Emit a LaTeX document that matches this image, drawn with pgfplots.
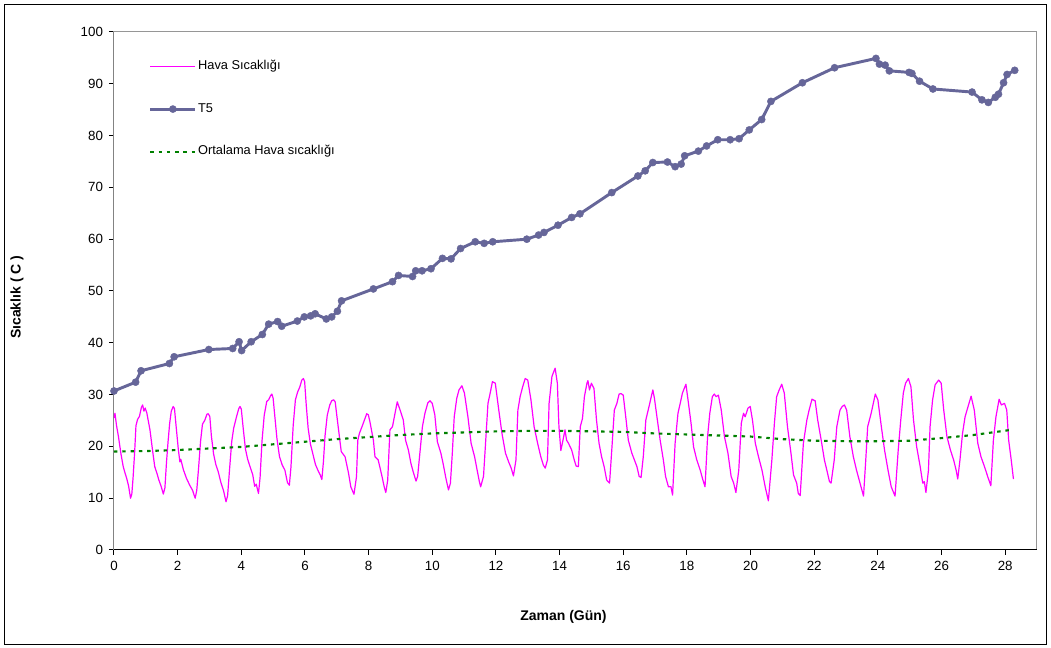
\documentclass[border=0pt]{standalone}
\usepackage{fontspec}
\setmainfont{Liberation Sans}
\usepackage{pgfplots}
\pgfplotsset{compat=1.18}
\definecolor{tfive}{HTML}{666699}
\definecolor{pinkc}{HTML}{FF00FF}
\definecolor{greenc}{HTML}{008000}
\definecolor{framegray}{HTML}{969696}

\pgfplotstableread{
x y
0.00 25.5
0.03 26.4
0.08 24.0
0.14 21.9
0.22 18.5
0.29 16.1
0.35 14.8
0.40 13.8
0.46 12.3
0.52 10.0
0.56 10.8
0.60 14.0
0.65 19.0
0.69 24.0
0.74 25.2
0.80 25.8
0.86 27.5
0.90 28.0
0.94 26.8
0.98 27.4
1.03 26.5
1.13 23.2
1.21 19.3
1.28 16.1
1.35 14.8
1.41 13.5
1.48 12.3
1.55 10.8
1.60 12.0
1.65 17.0
1.70 21.0
1.75 24.5
1.80 26.8
1.86 27.7
1.90 27.3
1.95 24.0
2.02 19.5
2.07 17.0
2.10 17.5
2.18 15.5
2.28 13.8
2.38 12.5
2.47 11.5
2.55 10.0
2.60 11.5
2.66 16.0
2.72 21.0
2.78 24.3
2.85 25.0
2.92 26.2
2.96 26.3
3.01 25.8
3.06 22.0
3.13 18.5
3.20 16.5
3.28 15.0
3.36 13.0
3.44 11.5
3.52 9.3
3.57 10.5
3.63 15.5
3.70 21.0
3.76 23.5
3.84 25.5
3.92 27.3
3.96 27.7
4.00 27.2
4.06 23.5
4.13 19.5
4.20 17.5
4.28 16.0
4.36 14.5
4.42 12.3
4.47 12.7
4.54 10.9
4.59 14.0
4.65 21.0
4.72 26.0
4.80 28.7
4.86 29.0
4.92 29.8
4.96 30.1
5.00 29.3
5.05 26.0
5.12 21.5
5.20 18.0
5.28 16.5
5.37 15.4
5.45 13.0
5.51 12.5
5.56 16.0
5.63 24.0
5.70 29.0
5.77 30.5
5.84 31.5
5.90 32.8
5.95 33.1
5.99 32.5
6.04 28.0
6.10 23.5
6.17 20.5
6.25 18.5
6.33 16.5
6.42 15.2
6.48 14.5
6.53 13.6
6.58 17.0
6.63 22.0
6.70 26.0
6.78 28.0
6.84 28.8
6.90 29.0
6.95 28.6
7.00 26.0
7.07 22.5
7.14 19.0
7.26 18.0
7.37 14.8
7.44 12.2
7.54 10.75
7.62 14.2
7.66 21.2
7.71 22.5
7.81 24.1
7.94 26.3
7.99 26.1
8.04 24.8
8.15 21.2
8.20 18.0
8.30 17.4
8.41 14.5
8.49 12.2
8.54 11.1
8.60 13.5
8.67 23.2
8.75 23.8
8.83 26.4
8.90 28.6
8.99 27.0
9.09 25.1
9.16 21.2
9.25 19.3
9.33 16.7
9.40 15.1
9.49 13.3
9.54 14.2
9.62 19.3
9.69 23.8
9.77 26.4
9.86 28.4
9.93 28.8
10.00 28.3
10.08 26.1
10.16 20.9
10.27 18.7
10.34 16.7
10.43 13.8
10.51 11.6
10.57 12.9
10.63 18.7
10.69 25.7
10.77 29.3
10.84 30.9
10.93 31.7
11.01 30.3
11.12 25.7
11.22 20.6
11.33 18.0
11.41 15.4
11.48 13.2
11.52 12.2
11.61 14.2
11.68 21.2
11.75 28.3
11.82 30.3
11.89 32.5
11.98 32.2
12.09 27.0
12.19 22.5
12.30 18.7
12.40 17.0
12.48 15.8
12.55 14.3
12.63 17.4
12.69 27.0
12.76 29.6
12.84 31.5
12.92 33.1
13.00 32.8
13.10 29.0
13.20 23.8
13.31 20.6
13.41 18.0
13.49 16.4
13.55 15.8
13.62 17.4
13.67 28.3
13.76 33.5
13.86 35.1
13.93 32.2
13.98 23.8
14.04 19.2
14.12 21.6
14.17 23.2
14.22 21.2
14.28 20.6
14.38 19.3
14.46 17.4
14.52 16.2
14.59 16.1
14.65 23.8
14.72 25.4
14.78 29.6
14.86 32.2
14.89 32.7
14.94 30.9
15.00 32.2
15.08 31.2
15.16 25.1
15.24 20.6
15.32 18.0
15.40 16.1
15.48 13.5
15.57 12.9
15.64 19.3
15.72 27.0
15.80 28.3
15.87 30.1
15.93 30.2
16.00 29.9
16.09 25.1
16.16 21.2
16.27 18.7
16.35 17.4
16.43 16.1
16.50 14.2
16.56 14.0
16.63 18.0
16.71 25.1
16.81 27.7
16.87 29.3
16.93 30.9
16.98 29.3
17.05 26.1
17.16 21.2
17.26 17.4
17.33 14.2
17.42 12.2
17.50 12.2
17.55 10.6
17.63 20.6
17.72 26.4
17.79 28.3
17.86 30.3
17.97 32.0
18.05 28.3
18.13 24.5
18.21 19.9
18.31 17.4
18.42 15.4
18.49 13.8
18.57 12.2
18.65 21.9
18.72 26.4
18.80 29.6
18.86 30.1
18.92 29.6
18.99 29.9
19.08 27.0
19.18 21.9
19.29 18.7
19.39 14.2
19.47 12.9
19.54 11.1
19.63 15.4
19.71 24.5
19.78 26.4
19.83 25.7
19.92 27.4
19.99 27.7
20.06 25.1
20.15 20.6
20.25 18.0
20.36 15.4
20.46 12.2
20.56 9.5
20.67 17.4
20.75 24.5
20.82 29.6
20.90 30.9
20.98 32.0
21.06 30.3
21.16 23.8
21.27 18.7
21.35 14.5
21.45 12.9
21.50 10.9
21.56 10.5
21.66 20.6
21.77 25.1
21.84 27.0
21.93 29.1
22.03 28.8
22.11 25.1
22.22 21.2
22.32 17.4
22.42 14.8
22.48 13.2
22.53 12.9
22.63 17.4
22.71 23.8
22.81 27.0
22.88 27.7
22.95 28.0
23.02 27.0
23.12 21.9
23.23 18.0
23.33 15.4
23.44 12.9
23.55 10.4
23.62 17.4
23.68 23.8
23.79 26.4
23.92 30.1
24.00 29.0
24.11 23.8
24.21 19.3
24.32 15.4
24.42 12.2
24.54 10.4
24.64 19.3
24.72 25.1
24.80 30.3
24.87 32.2
24.96 33.1
25.04 31.5
25.12 25.1
25.22 19.9
25.33 16.1
25.41 12.9
25.46 13.2
25.51 11.1
25.59 15.4
25.64 23.8
25.72 29.0
25.80 31.9
25.91 32.8
25.99 32.2
26.07 27.0
26.17 21.9
26.28 19.3
26.38 17.4
26.46 15.4
26.51 13.7
26.58 17.4
26.66 22.5
26.74 25.7
26.82 27.4
26.93 29.7
27.03 27.0
27.14 20.6
27.24 18.0
27.35 16.1
27.45 14.2
27.55 12.4
27.63 21.2
27.71 25.7
27.81 29.1
27.88 28.0
27.98 28.3
28.05 27.0
28.11 21.2
28.19 17.4
28.26 13.7
}\hava

\pgfplotstableread{
x y
0.00 30.7
0.68 32.4
0.85 34.6
1.74 36.0
1.89 37.3
2.98 38.7
3.73 38.9
3.93 40.2
4.01 38.5
4.31 40.2
4.66 41.6
4.86 43.6
5.14 44.1
5.27 43.2
5.76 44.2
5.98 45.0
6.18 45.2
6.32 45.6
6.67 44.6
6.84 45.0
7.02 46.1
7.15 48.1
8.15 50.4
8.75 51.8
8.94 53.0
9.38 52.8
9.48 53.9
9.68 53.9
9.96 54.3
10.32 56.3
10.59 56.2
10.89 58.2
11.35 59.5
11.63 59.2
11.90 59.5
12.97 60.0
13.34 60.8
13.51 61.3
13.95 62.7
14.38 64.2
14.64 64.9
15.64 69.0
16.46 72.2
16.69 73.2
16.93 74.8
17.39 74.9
17.63 74.0
17.82 74.5
17.93 76.1
18.36 77.0
18.62 78.0
18.97 79.2
19.36 79.2
19.64 79.4
19.96 81.1
20.35 83.1
20.64 86.6
21.63 90.2
22.64 93.1
23.94 94.9
24.05 93.8
24.23 93.6
24.36 92.5
24.98 92.2
25.07 92.0
25.31 90.5
25.73 89.0
26.96 88.4
27.27 86.9
27.47 86.4
27.69 87.4
27.79 88.0
27.95 90.2
28.06 91.8
28.30 92.6
}\tfivedata

\pgfplotstableread{
x y
0.0 19.0
1.0 19.1
2.0 19.3
3.0 19.6
4.0 19.9
5.0 20.4
6.0 20.9
7.0 21.4
8.0 21.8
9.0 22.2
10.0 22.5
11.0 22.7
12.0 22.9
13.0 23.0
14.0 23.0
15.0 22.9
16.0 22.8
17.0 22.5
18.0 22.3
19.0 22.1
20.0 21.9
21.0 21.4
22.0 21.1
23.0 21.0
24.0 21.0
25.0 21.1
26.0 21.6
27.0 22.2
28.2 23.2
}\ortalama

\begin{document}
\begin{tikzpicture}
\begin{axis}[
  at={(0pt,0pt)}, anchor=south west,
  scale only axis, width=692.25pt, height=388.5pt,
  xmin=0, xmax=29, ymin=0, ymax=100,
  xtick={0,2,...,28}, ytick={0,10,...,100},
  tick pos=left, tick align=outside, major tick length=3.75pt,
  axis line style={draw=framegray, line width=0.75pt},
  every tick/.style={black, line width=0.75pt},
  /pgf/number format/assume math mode=true,
  tick label style={font=\fontsize{10}{12}\selectfont},
  xticklabel style={yshift=-1pt},
  yticklabel style={xshift=-1pt},
  xlabel={Zaman (Gün)}, ylabel={Sıcaklık ( C )},
  label style={font=\bfseries\fontsize{10.5}{12}\selectfont},
  xlabel style={at={(axis description cs:0.487,-0.1293)}, anchor=center},
  ylabel style={at={(axis description cs:-0.1051,0.488)}, anchor=center},
  legend cell align=left,
  legend style={at={(axis description cs:0.0375,0.948)}, anchor=north west,
    draw=none, fill=none, inner sep=0pt, row sep=20.9pt,
    font=\fontsize{9.6}{11}\selectfont,
    nodes={inner sep=1pt, text height=7pt, text depth=2pt}},
  legend image code/.code={\draw[mark repeat=2,mark phase=2,#1] plot coordinates {(0pt,0pt) (16.9pt,0pt) (33.75pt,0pt)};},
]
\addplot[pinkc, line width=0.9pt, line join=round] table[x=x,y=y] {\hava};
\addlegendentry{Hava Sıcaklığı}
\addplot[tfive, line width=2.2pt, line join=round, mark=*, mark size=2.7pt,
  mark options={solid, fill=tfive, draw=tfive, line width=0.3pt}] table[x=x,y=y] {\tfivedata};
\addlegendentry{T5}
\addplot[greenc, line width=1.6pt, dash pattern=on 2.6pt off 3.6pt] table[x=x,y=y] {\ortalama};
\addlegendentry{Ortalama Hava sıcaklığı}
\draw[black, line width=0.75pt] (rel axis cs:0,1) -- (rel axis cs:0,0) -- (rel axis cs:1,0);
\end{axis}
\draw[black, line width=0.75pt] (-81.75pt,-71.25pt) rectangle (699pt,408.75pt);
\pgfresetboundingbox
\path[use as bounding box] (-85.5pt,-73.5pt) rectangle (702.75pt,412.5pt);
\end{tikzpicture}
\end{document}
